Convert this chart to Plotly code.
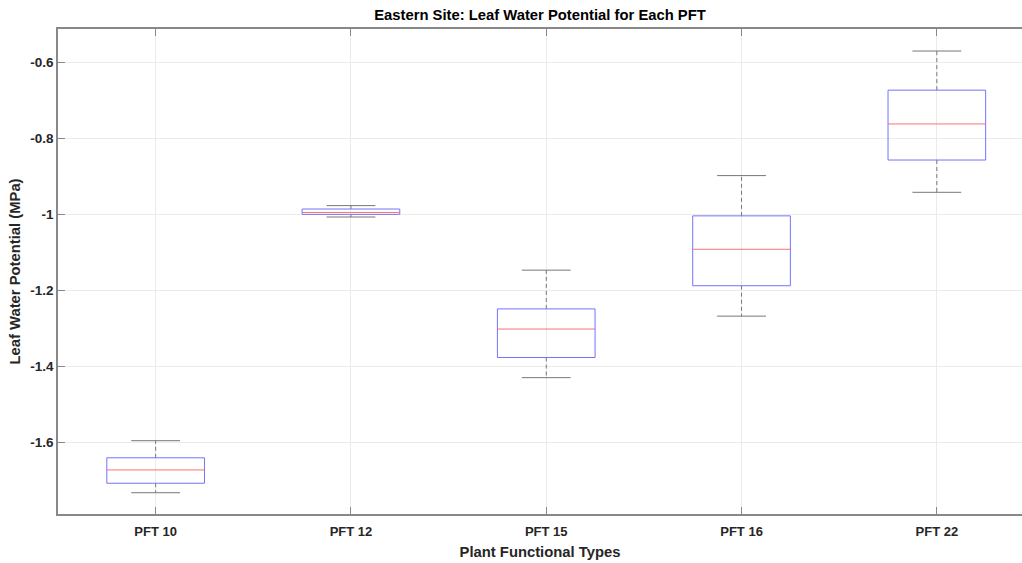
import plotly.graph_objects as go

# ---- data ----
categories = ["PFT 10", "PFT 12", "PFT 15", "PFT 16", "PFT 22"]
upper_whisker = [-1.596, -0.977, -1.147, -0.898, -0.570]
q3_values = [-1.641, -0.986, -1.249, -1.004, -0.673]
medians = [-1.673, -0.995, -1.302, -1.092, -0.762]
q1_values = [-1.708, -1.000, -1.377, -1.188, -0.857]
lower_whisker = [-1.733, -1.007, -1.430, -1.268, -0.942]
y_tick_vals = [-1.6, -1.4, -1.2, -1.0, -0.8, -0.6]
y_tick_text = ["-1.6", "-1.4", "-1.2", "-1", "-0.8", "-0.6"]

# ---- style ----
BOX_HALF = 0.25
CAP_HALF = 0.125
positions = list(range(1, len(categories) + 1))

box_x, box_y = [], []
med_x, med_y = [], []
wh_x, wh_y = [], []
cap_x, cap_y = [], []
for p, hi, q3, md, q1, lo in zip(positions, upper_whisker, q3_values, medians, q1_values, lower_whisker):
    box_x += [p - BOX_HALF, p + BOX_HALF, p + BOX_HALF, p - BOX_HALF, p - BOX_HALF, None]
    box_y += [q1, q1, q3, q3, q1, None]
    med_x += [p - BOX_HALF, p + BOX_HALF, None]
    med_y += [md, md, None]
    wh_x += [p, p, None, p, p, None]
    wh_y += [q3, hi, None, q1, lo, None]
    cap_x += [p - CAP_HALF, p + CAP_HALF, None, p - CAP_HALF, p + CAP_HALF, None]
    cap_y += [hi, hi, None, lo, lo, None]

fig = go.Figure()
fig.add_trace(go.Scatter(x=wh_x, y=wh_y, mode="lines",
                         line=dict(color="#777777", width=1, dash="4px,3px"),
                         hoverinfo="skip", showlegend=False))
fig.add_trace(go.Scatter(x=cap_x, y=cap_y, mode="lines",
                         line=dict(color="#777777", width=1),
                         hoverinfo="skip", showlegend=False))
fig.add_trace(go.Scatter(x=box_x, y=box_y, mode="lines",
                         line=dict(color="#7272ff", width=1),
                         hoverinfo="skip", showlegend=False))
fig.add_trace(go.Scatter(x=med_x, y=med_y, mode="lines",
                         line=dict(color="#ff7070", width=1),
                         hoverinfo="skip", showlegend=False))

font_family = "Liberation Sans, Arial, Helvetica, sans-serif"
fig.update_layout(
    width=1022, height=563,
    margin=dict(l=58, r=0, t=29, b=49, autoexpand=False),
    paper_bgcolor="white", plot_bgcolor="white",
    font=dict(family=font_family, color="#262626"),
    title=dict(text="<b>Eastern Site: Leaf Water Potential for Each PFT</b>",
               x=0.5, xref="paper", xanchor="center",
               y=0.982, yref="container", yanchor="top", automargin=False,
               font=dict(size=14.8, color="#000000")),
)
fig.update_xaxes(
    range=[0.5, 5.436], automargin=False,
    tickmode="array", tickvals=positions, ticktext=[f"<b>{c}</b>" for c in categories],
    tickfont=dict(size=13, color="#262626"), ticklabelstandoff=5,
    showgrid=True, gridcolor="#ebebeb", gridwidth=1,
    showline=True, linecolor="#888888", linewidth=1.5, mirror="ticks",
    ticks="inside", ticklen=7, tickcolor="#888888",
    zeroline=False,
    title=dict(text="<b>Plant Functional Types</b>", font=dict(size=14.8, color="#262626"), standoff=8),
)
fig.update_yaxes(
    range=[-1.789, -0.512], automargin=False,
    tickmode="array", tickvals=y_tick_vals, ticktext=[f"<b>{t}</b>" for t in y_tick_text],
    tickfont=dict(size=13.5, color="#262626"),
    showgrid=True, gridcolor="#ebebeb", gridwidth=1,
    showline=True, linecolor="#888888", linewidth=1.5,
    ticks="inside", ticklen=7, tickcolor="#888888",
    zeroline=False,
    title=dict(text="<b>Leaf Water Potential (MPa)</b>", font=dict(size=14.8, color="#262626"), standoff=6),
)

fig.write_html(
    "out.html",
    config={"displayModeBar": False},
    post_script="document.body.style.margin='0';document.documentElement.style.overflow='hidden';",
)
